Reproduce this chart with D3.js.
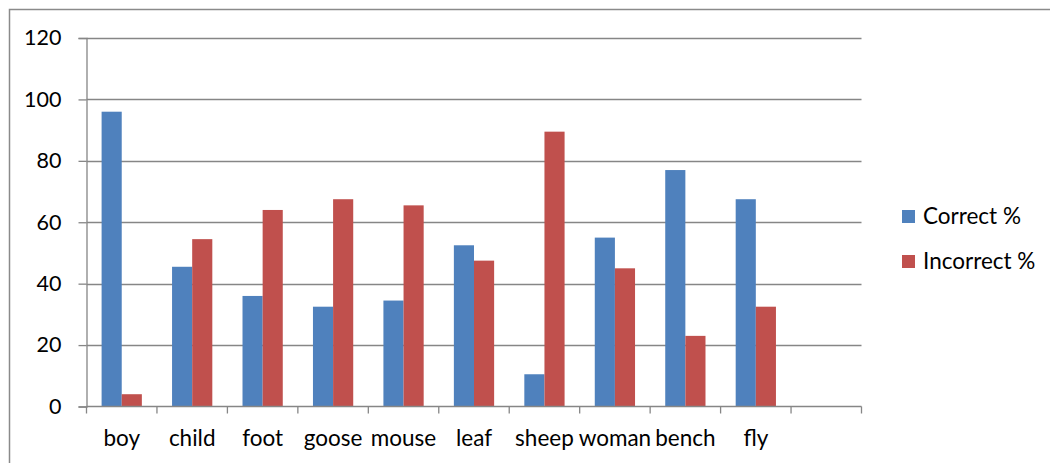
<!DOCTYPE html>
<html>
<head>
<meta charset="utf-8">
<script src="https://cdn.jsdelivr.net/npm/d3@7"></script>
<style>
  html, body { margin: 0; padding: 0; background: #fff; }
  svg { display: block; font-family: Lato, "Open Sans", sans-serif; }
</style>
</head>
<body>
<svg id="chart" width="1050" height="463"></svg>
<script>
// Word categories (the last slot is an empty category)
const categories = ["boy", "child", "foot", "goose", "mouse", "leaf", "sheep", "woman", "bench", "fly", ""];
const seriesNames = ["Correct %", "Incorrect %"];
const correctPct   = [96, 45.5, 36, 32.5, 34.5, 52.5, 10.5, 55, 77, 67.5, null];
const incorrectPct = [4, 54.5, 64, 67.5, 65.5, 47.5, 89.5, 45, 23, 32.5, null];
const yTicks = [0, 20, 40, 60, 80, 100, 120];
const seriesColors = ["#4F81BD", "#C0504D"];

const svg = d3.select("#chart");

// Outer chart frame
svg.append("rect")
  .attr("x", 9.5).attr("y", 9.5)
  .attr("width", 1100).attr("height", 500)
  .attr("fill", "none").attr("stroke", "#8a8a8a").attr("stroke-width", 1.5);

const plot = { left: 86.5, right: 861.5, top: 38, bottom: 406.5 };

const x = d3.scaleBand()
  .domain(categories.map((c, i) => i))
  .range([plot.left, plot.right])
  .paddingInner(0).paddingOuter(0);

const y = d3.scaleLinear().domain([0, 120]).range([plot.bottom, plot.top]);

const inner = d3.scaleBand()
  .domain(seriesNames)
  .range([0, x.bandwidth()])
  .paddingInner(0)
  .paddingOuter(0.75);

// Horizontal gridlines
svg.append("g")
  .selectAll("line")
  .data(yTicks.filter(t => t > 0))
  .join("line")
  .attr("x1", plot.left).attr("x2", plot.right)
  .attr("y1", d => Math.round(y(d)) + 0.5).attr("y2", d => Math.round(y(d)) + 0.5)
  .attr("stroke", "#868686").attr("stroke-width", 1.3);

// Bars
const rows = categories.map((c, i) => ({ i, vals: [correctPct[i], incorrectPct[i]] }));
const groups = svg.append("g").selectAll("g")
  .data(rows)
  .join("g")
  .attr("transform", d => `translate(${x(d.i)},0)`);

groups.selectAll("rect")
  .data(d => d.vals.map((v, k) => ({ v, k })).filter(e => e.v != null))
  .join("rect")
  .attr("x", e => inner(seriesNames[e.k]))
  .attr("width", inner.bandwidth())
  .attr("y", e => y(e.v))
  .attr("height", e => y(0) - y(e.v))
  .attr("fill", e => seriesColors[e.k]);

// Y axis
const yAxis = d3.axisLeft(y).tickValues(yTicks).tickSize(8).tickPadding(17).tickFormat(d3.format("d"));
const gy = svg.append("g").attr("transform", `translate(${plot.left},0)`).call(yAxis);
gy.select(".domain").attr("stroke", "#868686").attr("stroke-width", 1.3);
gy.selectAll(".tick line").attr("stroke", "#868686").attr("stroke-width", 1.3);
gy.selectAll(".tick text").attr("font-size", 21.5).attr("fill", "#000")
  .attr("font-family", "Lato, 'Open Sans', sans-serif");

// X axis: ticks on category boundaries
const xAxisLine = svg.append("g");
xAxisLine.append("line")
  .attr("x1", plot.left).attr("x2", plot.right)
  .attr("y1", plot.bottom).attr("y2", plot.bottom)
  .attr("stroke", "#868686").attr("stroke-width", 1.3);
const boundaries = categories.map((c, i) => x(i)).concat([x(categories.length - 1) + x.bandwidth()]);
xAxisLine.selectAll("line.tk")
  .data(boundaries)
  .join("line").attr("class", "tk")
  .attr("x1", d => d).attr("x2", d => d)
  .attr("y1", plot.bottom).attr("y2", plot.bottom + 7)
  .attr("stroke", "#868686").attr("stroke-width", 1.3);
xAxisLine.selectAll("text")
  .data(categories)
  .join("text")
  .attr("x", (c, i) => x(i) + x.bandwidth() / 2)
  .attr("y", 446)
  .attr("text-anchor", "middle")
  .attr("font-size", 22.5)
  .attr("fill", "#000")
  .text(c => c);

// Legend
const legend = svg.append("g").selectAll("g")
  .data(seriesNames)
  .join("g")
  .attr("transform", (d, i) => `translate(902,${210 + i * 45})`);
legend.append("rect")
  .attr("width", 13).attr("height", 13)
  .attr("fill", (d, i) => seriesColors[i]);
legend.append("text")
  .attr("x", 21).attr("y", 6.5).attr("dy", "0.35em")
  .attr("font-size", 22.5).attr("fill", "#000")
  .text(d => d);
</script>
</body>
</html>
